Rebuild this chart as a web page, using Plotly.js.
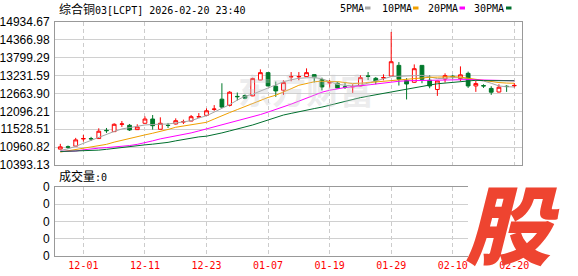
<!DOCTYPE html>
<html><head><meta charset="utf-8">
<script src="https://cdn.plot.ly/plotly-3.0.1.min.js"></script>
<style>html,body{margin:0;padding:0;background:#fff;}#chart{width:578px;height:276px;}</style>
</head><body><div id="chart"></div>
<script>
const dates = ['11-26','11-27','11-28','12-01','12-02','12-03','12-04','12-05','12-08','12-09',
 '12-10','12-11','12-12','12-15','12-16','12-17','12-18','12-19','12-22','12-23',
 '12-24','12-29','12-30','12-31','01-02','01-05','01-06','01-07','01-08','01-09',
 '01-12','01-13','01-14','01-15','01-16','01-19','01-20','01-21','01-22','01-23',
 '01-26','01-27','01-28','01-29','01-30','02-02','02-03','02-04','02-05','02-06',
 '02-09','02-10','02-11','02-12','02-13','02-16','02-17','02-18','02-19','02-20'];
const openP = [10898,10972,10992,11222,11233,11232,11494,11453,11688,11654,
 11516,11718,11853,11528,11655,11696,11760,11790,11918,11970,
 12160,12484,12286,12572,12601,12588,13093,13326,12894,12768,
 13190,13192,13200,13263,13105,13000,12989,12875,12876,12904,
 13222,13147,13156,13219,13557,13074,13020,13557,13084,12792,
 13125,13212,13137,13304,12904,12915,12825,12711,12895,12910];
const highP = [11065,11011,11254,11349,11286,11559,11569,11718,11790,11696,
 11686,11938,11980,11907,11728,11875,11833,11980,12042,12191,
 12295,12989,12737,12695,12632,13168,13430,13340,13043,13084,
 13345,13345,13462,13266,13168,13093,13043,13018,12957,13241,
 13345,13187,13273,14620,13661,13153,13588,13560,13241,13065,
 13304,13250,13525,13358,13061,12957,12894,12957,12926,12995];
const lowP = [10891,10907,10985,11138,11160,11228,11412,11450,11602,11475,
 11512,11712,11516,11525,11569,11680,11696,11786,11907,11964,
 12115,12210,12254,12443,12484,12578,13088,12894,12557,12620,
 13052,13084,13194,13011,12759,12853,12831,12809,12683,12894,
 13093,12957,13084,13210,12916,12475,13005,12989,12831,12588,
 13011,13137,13061,12841,12715,12841,12620,12696,12715,12853];
const closeP = [10970,10960,11191,11232,11223,11466,11484,11686,11696,11506,
 11602,11853,11642,11718,11648,11800,11768,11927,11927,12115,
 12169,12232,12705,12563,12516,13137,13326,12904,12746,13011,
 13200,13203,13326,13168,12872,13011,12841,12863,12885,13168,
 13210,13062,13168,13673,13115,12967,13452,13115,12904,13061,
 13232,13200,13257,12904,12979,12904,12705,12863,12885,12920];
const ma5 = [10854,10907,10986,11081,11191,11286,11380,11459,11538,11585,
 11633,11664,11680,11680,11696,11727,11759,11800,11885,11957,
 12074,12185,12311,12453,12579,12642,12737,12853,12926,13036,
 13099,13147,13162,13169,13131,13052,12957,12926,12904,12926,
 12989,13061,13115,13200,13210,13219,13225,13241,13194,13137,
 13147,13169,13162,13131,13099,13061,12989,12904,12878,12872];
const ma10 = [10803,10844,10876,10923,10955,10992,11049,11119,11182,11245,
 11295,11349,11402,11453,11522,11592,11633,11664,11705,11749,
 11853,11964,12058,12153,12248,12358,12453,12538,12610,12705,
 12815,12926,12989,13036,13052,13052,13042,13011,12979,12989,
 13011,13020,13042,13068,13083,13099,13131,13162,13178,13184,
 13194,13200,13184,13147,13115,13083,13052,13011,12995,12989];
const ma20 = [10828,10828,10835,10876,10907,10929,10945,10961,10986,11011,
 11049,11096,11160,11223,11270,11308,11349,11412,11475,11538,
 11601,11664,11727,11790,11853,11932,11995,12074,12153,12248,
 12327,12421,12516,12610,12705,12768,12815,12853,12878,12910,
 12942,12973,13005,13030,13052,13068,13074,13083,13090,13096,
 13099,13106,13106,13106,13099,13090,13074,13068,13068,13068];
const ma30 = [10822,10828,10835,10844,10854,10866,10891,10923,10955,10986,
 11011,11033,11055,11081,11112,11160,11207,11254,11286,11308,
 11349,11412,11475,11528,11601,11664,11743,11822,11901,11980,
 12033,12090,12137,12185,12232,12295,12358,12421,12484,12532,
 12579,12626,12673,12721,12768,12800,12847,12894,12932,12973,
 12995,13011,13036,13068,13083,13074,13068,13068,13068,13068];
const volume = [0,0,0,0,0,0,0,0,0,0, 0,0,0,0,0,0,0,0,0,0, 0,0,0,0,0,0,0,0,0,0,
 0,0,0,0,0,0,0,0,0,0, 0,0,0,0,0,0,0,0,0,0, 0,0,0,0,0,0,0,0,0,0];
const xTickLabels = ['12-01','12-11','12-23','01-07','01-19','01-29','02-10','02-20'];
const yTickLabels = ['10393.13','10960.82','11528.51','12096.21','12663.90','13231.59','13799.29','14366.98','14934.67'];
const volTickVals = [0,1,2,3,4];
const volTickText = ['0','0','0','0','0'];
const maNames = ['5PMA','10PMA','20PMA','30PMA'];
const maColors = ['#a6a6a6','#f0a000','#ff00ff','#006f2e'];

const RED = '#ff0000', GREEN = '#00782a';
const W = 578, H = 276, L = 55, R = 522, T = 22, B = 256;
const px = v => (v - L) / (R - L);
const py = v => (B - v) / (B - T);

const traces = [
 {type:'candlestick', x:dates, open:openP, high:highP, low:lowP, close:closeP,
  xaxis:'x', yaxis:'y', whiskerwidth:0, hoverinfo:'skip', showlegend:false,
  increasing:{line:{color:RED,width:1}, fillcolor:'#ffffff'},
  decreasing:{line:{color:GREEN,width:1}, fillcolor:GREEN}},
];
[ma5, ma10, ma20, ma30].forEach((arr,i)=>{
 traces.push({type:'scatter', mode:'lines', x:dates, y:arr, name:maNames[i], xaxis:'x', yaxis:'y',
  line:{color:maColors[i], width:1}, hoverinfo:'skip', showlegend:false});
});
traces.push({type:'bar', x:dates, y:volume, xaxis:'x2', yaxis:'y2', marker:{color:RED}, hoverinfo:'skip', showlegend:false});

const mono = 'DejaVu Sans Mono, Noto Sans CJK SC, monospace';
const annotations = [
 {text:'<span style="font-size:12px">综合铜</span>03[LCPT] 2026-02-20 23:40', xref:'paper', yref:'paper',
  x:px(57), y:py(10), xanchor:'left', yanchor:'middle', showarrow:false, font:{family:mono,size:10,color:'#000'}},
 {text:'<span style="font-size:12px">成交量</span>:0', xref:'paper', yref:'paper',
  x:px(57), y:py(176), xanchor:'left', yanchor:'middle', showarrow:false, font:{family:mono,size:10,color:'#000'}},
 {text:'东方财富', xref:'paper', yref:'paper', x:px(306), y:py(90), xanchor:'center', yanchor:'middle',
  showarrow:false, font:{family:'Noto Sans CJK SC', size:34, color:'rgba(200,200,205,0.35)', weight:700}},
 {text:'<i>股</i>', xref:'paper', yref:'paper', x:px(512), y:py(220), xanchor:'center', yanchor:'middle',
  showarrow:false, font:{family:'Noto Sans CJK SC', size:86, color:'#ee4430', weight:900}},
];
const legX = [338, 380, 426, 472];
const barX = [365, 413, 459.5, 506];
const shapes = [
 {type:'rect', xref:'paper', yref:'paper', x0:px(468), x1:px(565), y0:py(259), y1:py(183),
  fillcolor:'#ffffff', line:{width:0}, layer:'above'}
];
maNames.forEach((n,i)=>{
 annotations.push({text:n, xref:'paper', yref:'paper', x:px(legX[i]), y:py(9), xanchor:'left', yanchor:'middle',
  showarrow:false, font:{family:mono, size:10, color:'#000'}});
 shapes.push({type:'rect', xref:'paper', yref:'paper', x0:px(barX[i]), x1:px(barX[i]+5.5), y0:py(9.5), y1:py(6.5),
  fillcolor:maColors[i], line:{width:0}});
});

const gridX = {showgrid:true, gridcolor:'#cccccc', griddash:'4px,3px', gridwidth:1};
const layout = {
 width:W, height:H, margin:{l:L, r:W-R, t:T, b:H-B, pad:0},
 paper_bgcolor:'#fff', plot_bgcolor:'#fff', showlegend:false, hovermode:false,
 font:{family:'Liberation Sans, Arial, sans-serif', size:12, color:'#000'},
 bargap:0.3,
 xaxis:Object.assign({type:'category', range:[-0.69, 60.0], anchor:'y', domain:[0,1],
  tickmode:'array', tickvals:xTickLabels, showticklabels:false, ticks:'',
  showline:true, mirror:true, linecolor:'#999999', linewidth:1, zeroline:false,
  rangeslider:{visible:false}}, gridX),
 xaxis2:Object.assign({type:'category', matches:'x', anchor:'y2', domain:[0,1],
  tickmode:'array', tickvals:xTickLabels, ticktext:xTickLabels, ticks:'',
  tickfont:{family:mono, size:10, color:RED}, showline:true, mirror:true,
  linecolor:'#999999', linewidth:1, zeroline:false}, gridX),
 yaxis:{domain:[py(165), 1], range:[10393.13, 14934.67], anchor:'x',
  tickmode:'array', tickvals:yTickLabels.map(Number), ticktext:yTickLabels, ticks:'',
  showgrid:true, gridcolor:'#d0d0d0', gridwidth:1, zeroline:false,
  showline:true, mirror:true, linecolor:'#999999', linewidth:1,
  tickfont:{family:'Liberation Sans, Arial, sans-serif', size:12, color:'#000'}, ticklabelstandoff:2},
 yaxis2:{domain:[0, py(187)], range:[0,4], anchor:'x2',
  tickmode:'array', tickvals:volTickVals, ticktext:volTickText, ticks:'',
  showgrid:true, gridcolor:'#d0d0d0', gridwidth:1, zeroline:false,
  showline:true, mirror:true, linecolor:'#999999', linewidth:1,
  tickfont:{family:'Liberation Sans, Arial, sans-serif', size:12, color:'#000'}, ticklabelstandoff:2},
 annotations:annotations, shapes:shapes
};
Plotly.newPlot('chart', traces, layout, {staticPlot:true, displayModeBar:false});
</script></body></html>
